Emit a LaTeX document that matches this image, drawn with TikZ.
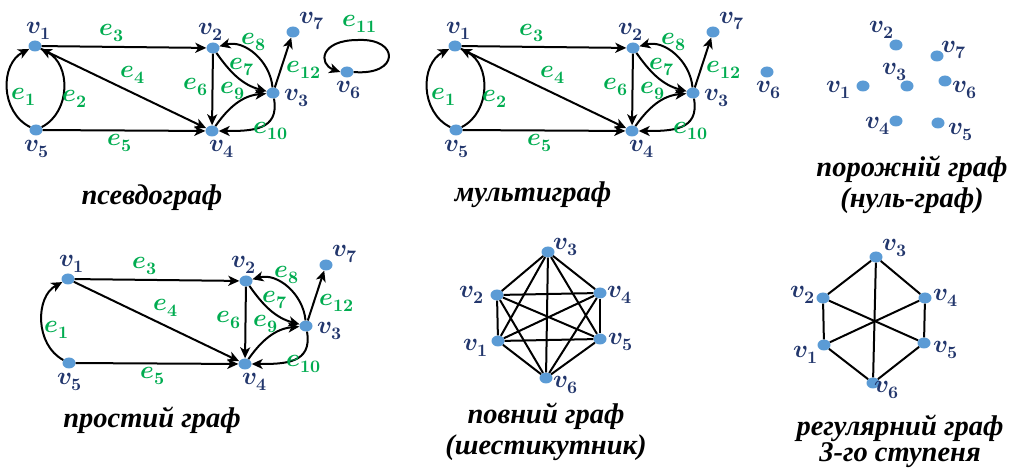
\documentclass[tikz,border=0pt]{standalone}
\usepackage{fontspec}
\usepackage{unicode-math}
\setmainfont{Liberation Serif}
\setmathfont{Latin Modern Math}
\usetikzlibrary{arrows.meta,shapes.geometric}
\definecolor{dotblue}{RGB}{91,155,213}
\definecolor{vblue}{RGB}{34,54,108}
\definecolor{egreen}{RGB}{0,172,80}

\begin{document}
\begin{tikzpicture}[x=1pt, y=1pt,
    dot/.style={ellipse, fill=dotblue, minimum width=13pt, minimum height=11pt, inner sep=0pt},
    vlab/.style={text=vblue, font=\fontsize{25}{25}\selectfont, inner sep=0pt},
    elab/.style={text=egreen, font=\fontsize{25}{25}\selectfont, inner sep=0pt},
    line/.style={draw, line width=2pt, -{Stealth[length=11pt, width=10pt, inset=3pt]}},
    edge/.style={draw, line width=2pt},
    title/.style={font=\fontsize{28.5}{31}\selectfont\bfseries\itshape, align=center, inner sep=0pt}]

    \useasboundingbox (0,0) rectangle (1013,-470);

    % pseudograph
    \node [dot] (p1) at (35,-46) {};
    \node [dot] (p2) at (213,-48) {};
    \node [dot] (p3) at (273,-93) {};
    \node [dot] (p4) at (212,-131) {};
    \node [dot] (p5) at (36,-130) {};
    \node [dot] (p6) at (347,-72) {};
    \node [dot] (p7) at (293,-32) {};

    \node [vlab] (p1l) at (39,-31) {$\symbfit{v}_{\symbf{1}}$};
    \node [vlab] (p2l) at (211,-32) {$\symbfit{v}_{\symbf{2}}$};
    \node [vlab] (p3l) at (297,-98) {$\symbfit{v}_{\symbf{3}}$};
    \node [vlab] (p4l) at (222,-149) {$\symbfit{v}_{\symbf{4}}$};
    \node [vlab] (p5l) at (37,-149) {$\symbfit{v}_{\symbf{5}}$};
    \node [vlab] (p6l) at (349,-90) {$\symbfit{v}_{\symbf{6}}$};
    \node [vlab] (p7l) at (312,-21) {$\symbfit{v}_{\symbf{7}}$};

    \path [line] (p5) .. controls (0,-112) and (0,-64) .. (p1);
    \path [line] (p5) .. controls (71,-112) and (71,-64) .. (p1);
    \path [line] (p1) -- (p2);
    \path [line] (p1) -- (p4);
    \path [line] (p5) -- (p4);
    \path [line] (p2) -- (p4);
    \path [line] (p2) to [out=-55, in=165] (p3);
    \path [line] (p3) to [out=95, in=15] (p2);
    \path [line] (p4) to [out=55, in=185] (p3);
    \path [line] (p3) to [out=-80, in=0, looseness=1.3] (p4);
    \path [line] (p3) -- (p7);
    \path [line] (p6.east) .. controls (400,-76) and (400,-38) .. (358,-40)
        .. controls (320,-40) and (318,-64) .. (p6.west);

    \node [elab] (pe1) at (24,-97) {$\symbfit{e}_{\symbf{1}}$};
    \node [elab] (pe2) at (75,-99) {$\symbfit{e}_{\symbf{2}}$};
    \node [elab] (pe3) at (112,-33) {$\symbfit{e}_{\symbf{3}}$};
    \node [elab] (pe4) at (133,-75) {$\symbfit{e}_{\symbf{4}}$};
    \node [elab] (pe5) at (120,-143) {$\symbfit{e}_{\symbf{5}}$};
    \node [elab] (pe6) at (196,-87) {$\symbfit{e}_{\symbf{6}}$};
    \node [elab] (pe7) at (242,-67) {$\symbfit{e}_{\symbf{7}}$};
    \node [elab] (pe8) at (254,-42) {$\symbfit{e}_{\symbf{8}}$};
    \node [elab] (pe9) at (233,-91) {$\symbfit{e}_{\symbf{9}}$};
    \node [elab] (pe10) at (271,-131) {$\symbfit{e}_{\symbf{10}}$};
    \node [elab] (pe11) at (360,-24) {$\symbfit{e}_{\symbf{11}}$};
    \node [elab] (pe12) at (304,-70) {$\symbfit{e}_{\symbf{12}}$};

    \node [title] (tpseudo) at (152,-198) {псевдограф};

    % multigraph
    \begin{scope}[shift={(420,0)}]
    \node [dot] (m1) at (35,-46) {};
    \node [dot] (m2) at (213,-48) {};
    \node [dot] (m3) at (273,-93) {};
    \node [dot] (m4) at (212,-131) {};
    \node [dot] (m5) at (36,-130) {};
    \node [dot] (m6) at (347,-72) {};
    \node [dot] (m7) at (293,-32) {};

    \node [vlab] (m1l) at (39,-31) {$\symbfit{v}_{\symbf{1}}$};
    \node [vlab] (m2l) at (211,-32) {$\symbfit{v}_{\symbf{2}}$};
    \node [vlab] (m3l) at (297,-98) {$\symbfit{v}_{\symbf{3}}$};
    \node [vlab] (m4l) at (222,-149) {$\symbfit{v}_{\symbf{4}}$};
    \node [vlab] (m5l) at (37,-149) {$\symbfit{v}_{\symbf{5}}$};
    \node [vlab] (m6l) at (349,-90) {$\symbfit{v}_{\symbf{6}}$};
    \node [vlab] (m7l) at (312,-21) {$\symbfit{v}_{\symbf{7}}$};

    \path [line] (m5) .. controls (0,-112) and (0,-64) .. (m1);
    \path [line] (m5) .. controls (71,-112) and (71,-64) .. (m1);
    \path [line] (m1) -- (m2);
    \path [line] (m1) -- (m4);
    \path [line] (m5) -- (m4);
    \path [line] (m2) -- (m4);
    \path [line] (m2) to [out=-55, in=165] (m3);
    \path [line] (m3) to [out=95, in=15] (m2);
    \path [line] (m4) to [out=55, in=185] (m3);
    \path [line] (m3) to [out=-80, in=0, looseness=1.3] (m4);
    \path [line] (m3) -- (m7);

    \node [elab] (me1) at (24,-97) {$\symbfit{e}_{\symbf{1}}$};
    \node [elab] (me2) at (75,-99) {$\symbfit{e}_{\symbf{2}}$};
    \node [elab] (me3) at (112,-33) {$\symbfit{e}_{\symbf{3}}$};
    \node [elab] (me4) at (133,-75) {$\symbfit{e}_{\symbf{4}}$};
    \node [elab] (me5) at (120,-143) {$\symbfit{e}_{\symbf{5}}$};
    \node [elab] (me6) at (196,-87) {$\symbfit{e}_{\symbf{6}}$};
    \node [elab] (me7) at (242,-67) {$\symbfit{e}_{\symbf{7}}$};
    \node [elab] (me8) at (254,-42) {$\symbfit{e}_{\symbf{8}}$};
    \node [elab] (me9) at (233,-91) {$\symbfit{e}_{\symbf{9}}$};
    \node [elab] (me10) at (271,-131) {$\symbfit{e}_{\symbf{10}}$};
    \node [elab] (me12) at (304,-70) {$\symbfit{e}_{\symbf{12}}$};

    \node [title] (tmulti) at (113,-195) {мультиграф};
    \end{scope}

    % null graph
    \node [dot] (z1) at (863,-86) {};
    \node [dot] (z2) at (896,-45) {};
    \node [dot] (z3) at (907,-86) {};
    \node [dot] (z4) at (896,-121) {};
    \node [dot] (z5) at (938,-123) {};
    \node [dot] (z6) at (945,-81) {};
    \node [dot] (z7) at (937,-56) {};

    \node [vlab] (z1l) at (839,-90) {$\symbfit{v}_{\symbf{1}}$};
    \node [vlab] (z2l) at (882,-30) {$\symbfit{v}_{\symbf{2}}$};
    \node [vlab] (z3l) at (895,-72) {$\symbfit{v}_{\symbf{3}}$};
    \node [vlab] (z4l) at (878,-126) {$\symbfit{v}_{\symbf{4}}$};
    \node [vlab] (z5l) at (961,-132) {$\symbfit{v}_{\symbf{5}}$};
    \node [vlab] (z6l) at (965,-90) {$\symbfit{v}_{\symbf{6}}$};
    \node [vlab] (z7l) at (954,-50) {$\symbfit{v}_{\symbf{7}}$};

    \node [title] (tnull) at (912,-185) {порожній граф\\(нуль-граф)};

    % simple graph
    \begin{scope}[shift={(33,-233)}]
    \node [dot] (s1) at (35,-46) {};
    \node [dot] (s2) at (213,-48) {};
    \node [dot] (s3) at (273,-93) {};
    \node [dot] (s4) at (212,-131) {};
    \node [dot] (s5) at (36,-130) {};
    \node [dot] (s7) at (293,-32) {};

    \node [vlab] (s1l) at (39,-31) {$\symbfit{v}_{\symbf{1}}$};
    \node [vlab] (s2l) at (211,-32) {$\symbfit{v}_{\symbf{2}}$};
    \node [vlab] (s3l) at (297,-98) {$\symbfit{v}_{\symbf{3}}$};
    \node [vlab] (s4l) at (222,-149) {$\symbfit{v}_{\symbf{4}}$};
    \node [vlab] (s5l) at (37,-149) {$\symbfit{v}_{\symbf{5}}$};
    \node [vlab] (s7l) at (312,-21) {$\symbfit{v}_{\symbf{7}}$};

    \path [line] (s5) .. controls (2,-112) and (2,-64) .. (s1);
    \path [line] (s1) -- (s2);
    \path [line] (s1) -- (s4);
    \path [line] (s5) -- (s4);
    \path [line] (s2) -- (s4);
    \path [line] (s2) to [out=-55, in=165] (s3);
    \path [line] (s3) to [out=95, in=15] (s2);
    \path [line] (s4) to [out=55, in=185] (s3);
    \path [line] (s3) to [out=-80, in=0, looseness=1.3] (s4);
    \path [line] (s3) -- (s7);

    \node [elab] (se1) at (24,-97) {$\symbfit{e}_{\symbf{1}}$};
    \node [elab] (se3) at (112,-33) {$\symbfit{e}_{\symbf{3}}$};
    \node [elab] (se4) at (133,-75) {$\symbfit{e}_{\symbf{4}}$};
    \node [elab] (se5) at (120,-143) {$\symbfit{e}_{\symbf{5}}$};
    \node [elab] (se6) at (196,-87) {$\symbfit{e}_{\symbf{6}}$};
    \node [elab] (se7) at (242,-67) {$\symbfit{e}_{\symbf{7}}$};
    \node [elab] (se8) at (254,-42) {$\symbfit{e}_{\symbf{8}}$};
    \node [elab] (se9) at (233,-91) {$\symbfit{e}_{\symbf{9}}$};
    \node [elab] (se10) at (271,-131) {$\symbfit{e}_{\symbf{10}}$};
    \node [elab] (se12) at (304,-70) {$\symbfit{e}_{\symbf{12}}$};
    \end{scope}

    \node [title] (tsimple) at (152,-420) {простий граф};

    % complete graph
    \node [dot] (c1) at (498,-341) {};
    \node [dot] (c2) at (497,-295) {};
    \node [dot] (c3) at (548,-252) {};
    \node [dot] (c4) at (600,-293) {};
    \node [dot] (c5) at (600,-339) {};
    \node [dot] (c6) at (546,-378) {};

    \foreach \a/\b in {1/2,1/3,1/4,1/5,1/6,2/3,2/4,2/5,2/6,3/4,3/5,3/6,4/5,4/6,5/6}
        \path [edge] (c\a) -- (c\b);

    \node [vlab] (c1l) at (476,-348) {$\symbfit{v}_{\symbf{1}}$};
    \node [vlab] (c2l) at (472,-295) {$\symbfit{v}_{\symbf{2}}$};
    \node [vlab] (c3l) at (566,-247) {$\symbfit{v}_{\symbf{3}}$};
    \node [vlab] (c4l) at (620,-295) {$\symbfit{v}_{\symbf{4}}$};
    \node [vlab] (c5l) at (621,-342) {$\symbfit{v}_{\symbf{5}}$};
    \node [vlab] (c6l) at (566,-385) {$\symbfit{v}_{\symbf{6}}$};

    \node [title] (tcomplete) at (546,-432) {повний граф\\(шестикутник)};

    % regular graph
    \node [dot] (r1) at (824,-345) {};
    \node [dot] (r2) at (823,-298) {};
    \node [dot] (r3) at (876,-257) {};
    \node [dot] (r4) at (925,-298) {};
    \node [dot] (r5) at (924,-343) {};
    \node [dot] (r6) at (873,-383) {};

    \path [edge] (r3) -- (r2);
    \path [edge] (r3) -- (r4);
    \path [edge] (r3) -- (r6);
    \path [edge] (r2) -- (r1);
    \path [edge] (r2) -- (r5);
    \path [edge] (r4) -- (r1);
    \path [edge] (r4) -- (r5);
    \path [edge] (r1) -- (r6);
    \path [edge] (r5) -- (r6);

    \node [vlab] (r1l) at (806,-355) {$\symbfit{v}_{\symbf{1}}$};
    \node [vlab] (r2l) at (803,-295) {$\symbfit{v}_{\symbf{2}}$};
    \node [vlab] (r3l) at (895,-248) {$\symbfit{v}_{\symbf{3}}$};
    \node [vlab] (r4l) at (946,-298) {$\symbfit{v}_{\symbf{4}}$};
    \node [vlab] (r5l) at (946,-350) {$\symbfit{v}_{\symbf{5}}$};
    \node [vlab] (r6l) at (887,-390) {$\symbfit{v}_{\symbf{6}}$};

    \node [title, font=\fontsize{28.5}{26}\selectfont\bfseries\itshape] (tregular) at (900,-441) {регулярний граф\\3-го ступеня};
\end{tikzpicture}
\end{document}
